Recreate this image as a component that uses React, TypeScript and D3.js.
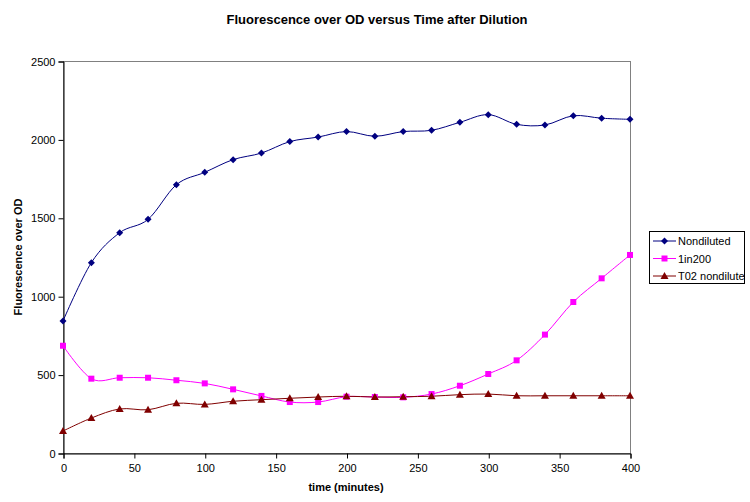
import * as d3 from 'd3';
import { useEffect, useRef } from 'react';

const times = [0, 20, 40, 60, 80, 100, 120, 140, 160, 180, 200, 220, 240, 260, 280, 300, 320, 340, 360, 380, 400];

const nondiluted = [842, 1214, 1405, 1490, 1711, 1790, 1871, 1913, 1986, 2015, 2050, 2020, 2050, 2058, 2109, 2158, 2096, 2092, 2151, 2135, 2128];
const in200 = [684, 474, 480, 480, 464, 444, 406, 364, 325, 325, 359, 357, 355, 376, 429, 504, 591, 755, 963, 1114, 1263];
const t02 = [140, 223, 281, 276, 317, 310, 330, 340, 349, 357, 362, 357, 359, 362, 372, 376, 365, 365, 365, 365, 365];

const xTicks = [0, 50, 100, 150, 200, 250, 300, 350, 400];
const yTicks = [0, 500, 1000, 1500, 2000, 2500];

const series = [
  { name: 'Nondiluted', values: nondiluted, color: '#000080', marker: 'diamond' },
  { name: '1in200', values: in200, color: '#ff00ff', marker: 'square' },
  { name: 'T02 nondilute', values: t02, color: '#800000', marker: 'triangle' },
];

export default function App() {
  const ref = useRef<SVGSVGElement | null>(null);

  useEffect(() => {
    if (!ref.current) return;
    const width = 750;
    const height = 502;
    const font = 'Arial, "Liberation Sans", sans-serif';

    const svg = d3.select(ref.current).attr('width', width).attr('height', height);
    svg.selectAll('*').remove();

    svg.append('rect').attr('width', width).attr('height', height).attr('fill', '#fff');

    const x = d3.scaleLinear().domain([0, 400]).range([63, 630]);
    const y = d3.scaleLinear().domain([0, 2500]).range([453, 61]);

    // plot frame
    svg
      .append('rect')
      .attr('x', 63.5)
      .attr('y', 61.5)
      .attr('width', 567)
      .attr('height', 392)
      .attr('fill', 'none')
      .attr('stroke', '#808080');

    // axes
    const yAxis = svg
      .append('g')
      .attr('transform', 'translate(63.5,0.5)')
      .call(d3.axisLeft(y).tickValues(yTicks).tickSize(5).tickPadding(3).tickFormat(d3.format('d')));
    const xAxis = svg
      .append('g')
      .attr('transform', 'translate(0.5,453.5)')
      .call(d3.axisBottom(x).tickValues(xTicks).tickSize(5).tickPadding(6).tickFormat(d3.format('d')));

    [yAxis, xAxis].forEach((a) => {
      a.select('.domain').attr('stroke', '#000');
      a.selectAll('line').attr('stroke', '#000');
      a.selectAll('text').attr('font-family', font).attr('font-size', 11).attr('fill', '#000');
    });

    // series
    const line = d3
      .line<number>()
      .x((_, i) => x(times[i]))
      .y((d) => y(d))
      .curve(d3.curveCatmullRom.alpha(0));

    const markerPath = (kind: string) => {
      if (kind === 'diamond') return 'M0,-3.5L3.5,0L0,3.5L-3.5,0Z';
      if (kind === 'square') return 'M-3,-3H3V3H-3Z';
      return 'M0,-4L4,3H-4Z';
    };

    series.forEach((s) => {
      svg
        .append('path')
        .attr('d', line(s.values))
        .attr('fill', 'none')
        .attr('stroke', s.color)
        .attr('stroke-width', 1);
    });

    series.forEach((s) => {
      svg
        .append('g')
        .selectAll('path')
        .data(s.values)
        .enter()
        .append('path')
        .attr('d', markerPath(s.marker))
        .attr('transform', (d, i) => `translate(${x(times[i])},${y(d)})`)
        .attr('fill', s.color);
    });

    // title
    svg
      .append('text')
      .attr('x', 377)
      .attr('y', 24)
      .attr('text-anchor', 'middle')
      .attr('font-family', font)
      .attr('font-weight', 'bold')
      .attr('font-size', 13)
      .text('Fluorescence over OD versus Time after Dilution');

    svg
      .append('text')
      .attr('transform', 'translate(22,257) rotate(-90)')
      .attr('text-anchor', 'middle')
      .attr('font-family', font)
      .attr('font-weight', 'bold')
      .attr('font-size', 11)
      .text('Fluorescence over OD');

    svg
      .append('text')
      .attr('x', 346)
      .attr('y', 491)
      .attr('text-anchor', 'middle')
      .attr('font-family', font)
      .attr('font-weight', 'bold')
      .attr('font-size', 11)
      .text('time (minutes)');

    // legend
    const lg = svg.append('g');
    lg.append('rect')
      .attr('x', 649.5)
      .attr('y', 231.5)
      .attr('width', 95)
      .attr('height', 52)
      .attr('fill', '#fff')
      .attr('stroke', '#000');
    series.forEach((s, i) => {
      const cy = 241 + i * 17.5;
      lg.append('line')
        .attr('x1', 653)
        .attr('x2', 676)
        .attr('y1', cy)
        .attr('y2', cy)
        .attr('stroke', s.color);
      lg.append('path')
        .attr('d', markerPath(s.marker))
        .attr('transform', `translate(664.5,${cy})`)
        .attr('fill', s.color);
      lg.append('text')
        .attr('x', 678)
        .attr('y', cy + 4)
        .attr('font-family', font)
        .attr('font-size', 11)
        .text(s.name);
    });
  }, []);

  return (
    <div style={{ position: 'absolute', left: 0, top: 0 }}>
      <svg ref={ref} style={{ display: 'block' }} />
    </div>
  );
}
